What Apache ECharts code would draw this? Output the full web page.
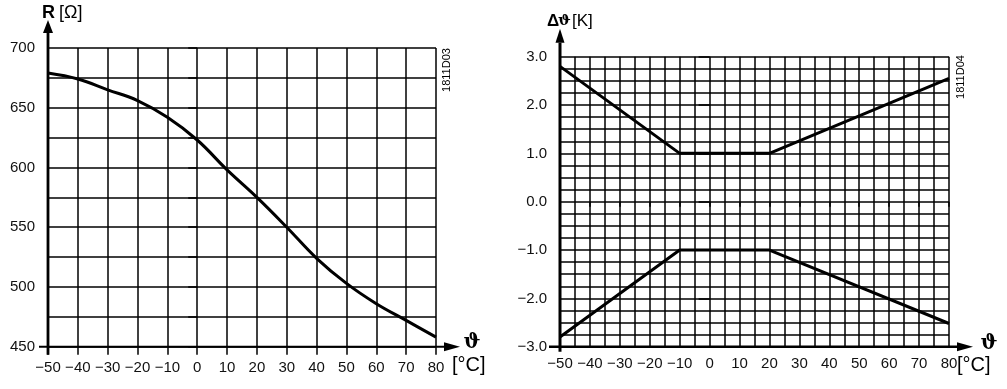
<!DOCTYPE html>
<html><head><meta charset="utf-8">
<script src="https://cdn.jsdelivr.net/npm/echarts@6/dist/echarts.min.js"></script>
<style>html,body{margin:0;padding:0;background:#fff}#c{width:1007px;height:389px}</style>
</head><body><div id="c"></div>
<script>
// ---- data ----
const tempLeft = [-50, -40, -30, -20, -10, 0, 10, 20, 30, 40, 50, 60, 70, 80];
const resistance = [679, 674, 665, 656, 642, 623, 598, 575, 550, 524, 503, 486, 472, 458];
const tempRight = [-50, -10, 20, 80];
const upperTol = [2.8, 1.0, 1.0, 2.55];
const lowerTol = [-2.8, -1.0, -1.0, -2.52];
const leftTitle = ['R', '[Ω]'];
const rightTitle = ['Δ', 'ϑ', '[K]'];
const xName = ['ϑ', '[°C]'];
const codes = ['1811D03', '1811D04'];

const FONT = '"Liberation Sans", Arial, sans-serif';
const dash = v => (v < 0 ? '\u2212' + Math.abs(v) : String(v));
const gridLine = { show: true, lineStyle: { color: '#000', width: 1.5 } };

const chart = echarts.init(document.getElementById('c'), null, { renderer: 'canvas' });
const option = {
  animation: false,
  backgroundColor: '#fff',
  grid: [
    { left: 48, right: 571, top: 48, bottom: 42.3 },
    { left: 560, right: 58, top: 56.7, bottom: 42.3 }
  ],
  xAxis: [
    {
      gridIndex: 0, type: 'value', min: -50, max: 80, interval: 10,
      axisLine: { show: false },
      axisTick: { show: true, length: 8, lineStyle: { color: '#000', width: 1.5 } },
      axisLabel: { margin: 14, fontSize: 15, color: '#111', fontFamily: FONT, formatter: dash, showMinLabel: true, showMaxLabel: true },
      splitLine: gridLine
    },
    {
      gridIndex: 1, type: 'value', min: -50, max: 80, interval: 10,
      axisLine: { show: false },
      axisTick: { show: true, length: 5, lineStyle: { color: '#000', width: 1.5 } },
      minorTick: { show: false, splitNumber: 2 },
      minorSplitLine: { show: true, lineStyle: { color: '#000', width: 1.5 } },
      axisLabel: { margin: 10, fontSize: 15, color: '#111', fontFamily: FONT, formatter: dash, showMinLabel: true, showMaxLabel: true },
      splitLine: gridLine
    }
  ],
  yAxis: [
    {
      gridIndex: 0, type: 'value', min: 450, max: 700, interval: 25,
      axisLine: { show: false },
      axisTick: { show: true, length: 9, lineStyle: { color: '#000', width: 1.5 } },
      axisLabel: { margin: 13, fontSize: 15, color: '#111', fontFamily: FONT,
        formatter: v => (v % 50 === 0 ? String(v) : ''), showMinLabel: true, showMaxLabel: true },
      splitLine: gridLine
    },
    {
      gridIndex: 1, type: 'value', min: -3, max: 3, interval: 1,
      axisLine: { show: false },
      axisTick: { show: true, length: 11, lineStyle: { color: '#000', width: 1.5 } },
      minorTick: { show: false, splitNumber: 4 },
      minorSplitLine: { show: true, lineStyle: { color: '#000', width: 1.5 } },
      axisLabel: { margin: 13, fontSize: 15, color: '#111', fontFamily: FONT,
        formatter: v => (v < 0 ? '\u2212' + Math.abs(v).toFixed(1) : v.toFixed(1)), showMinLabel: true, showMaxLabel: true },
      splitLine: gridLine
    }
  ],
  series: [
    {
      type: 'line', xAxisIndex: 0, yAxisIndex: 0, smooth: 0.4, showSymbol: false,
      data: tempLeft.map((t, i) => [t, resistance[i]]),
      lineStyle: { color: '#000', width: 3 }, z: 5
    },
    {
      type: 'line', xAxisIndex: 1, yAxisIndex: 1, showSymbol: false,
      data: tempRight.map((t, i) => [t, upperTol[i]]),
      lineStyle: { color: '#000', width: 3 }, z: 5
    },
    {
      type: 'line', xAxisIndex: 1, yAxisIndex: 1, showSymbol: false,
      data: tempRight.map((t, i) => [t, lowerTol[i]]),
      lineStyle: { color: '#000', width: 3 }, z: 5
    }
  ]
};
chart.setOption(option);

// axis lines with arrows, positioned from the axes' own scales
function axes(xi, yi, xMin, xMax, yMin, yMax, o) {
  const x0 = chart.convertToPixel({ xAxisIndex: xi }, xMin);
  const x1 = chart.convertToPixel({ xAxisIndex: xi }, xMax);
  const y0 = chart.convertToPixel({ yAxisIndex: yi }, yMin);
  const y1 = chart.convertToPixel({ yAxisIndex: yi }, yMax);
  const els = [];
  els.push({ type: 'line', z: 10, shape: { x1: x0, y1: y0 + o.vDown, x2: x0, y2: y1 - o.vUp + o.vHead }, style: { stroke: '#000', lineWidth: o.vWidth } });
  els.push({ type: 'polygon', z: 10, shape: { points: [[x0, y1 - o.vUp], [x0 - o.vHalf, y1 - o.vUp + o.vHead], [x0 + o.vHalf, y1 - o.vUp + o.vHead]] }, style: { fill: '#000' } });
  els.push({ type: 'line', z: 10, shape: { x1: x0 - o.hLeft, y1: y0, x2: x1 + o.hRight - o.hHead, y2: y0 }, style: { stroke: '#000', lineWidth: o.hWidth } });
  els.push({ type: 'polygon', z: 10, shape: { points: [[x1 + o.hRight, y0], [x1 + o.hRight - o.hHead, y0 - o.hHalf], [x1 + o.hRight - o.hHead, y0 + o.hHalf]] }, style: { fill: '#000' } });
  return els;
}
const txt = (text, x, y, font, extra) => ({ type: 'text', z: 20, x, y, style: Object.assign({ text, font, fill: '#000', textVerticalAlign: 'middle' }, extra || {}) });

const gL = axes(0, 0, -50, 80, 450, 700, { vDown: 8, vUp: 28, vHead: 13, vHalf: 5, vWidth: 2.8, hLeft: 9, hRight: 24, hHead: 16, hHalf: 4.5, hWidth: 2 });
const gR = axes(1, 1, -50, 80, -3, 3, { vDown: 5, vUp: 28, vHead: 14, vHalf: 4.5, vWidth: 3, hLeft: 11, hRight: 24, hHead: 16, hHalf: 4.5, hWidth: 2.6 });

const texts = [
  txt(leftTitle[0], 42, 13, 'bold 18px ' + FONT),
  txt(leftTitle[1], 59, 13, '18px ' + FONT),
  txt(xName[0], 472, 343, 'bold 20px "DejaVu Serif", serif', { textAlign: 'center' }),
  txt(xName[1], 452, 365, '20px ' + FONT),
  { type: 'text', z: 20, x: 447, y: 70, rotation: Math.PI / 2, style: { text: codes[0], font: '11px ' + FONT, fill: '#000', textAlign: 'center', textVerticalAlign: 'middle' } },
  txt(rightTitle[0], 547, 21, 'bold 17px ' + FONT),
  txt(rightTitle[1], 558, 21, 'bold 15px "DejaVu Serif", serif'),
  txt(rightTitle[2], 572, 21, '17px ' + FONT),
  txt(xName[0], 989, 344, 'bold 20px "DejaVu Serif", serif', { textAlign: 'center' }),
  txt(xName[1], 957, 365, '20px ' + FONT),
  { type: 'text', z: 20, x: 961, y: 77, rotation: Math.PI / 2, style: { text: codes[1], font: '11px ' + FONT, fill: '#000', textAlign: 'center', textVerticalAlign: 'middle' } }
];
chart.setOption({ graphic: { elements: gL.concat(gR).concat(texts) } });
</script>
</body></html>
